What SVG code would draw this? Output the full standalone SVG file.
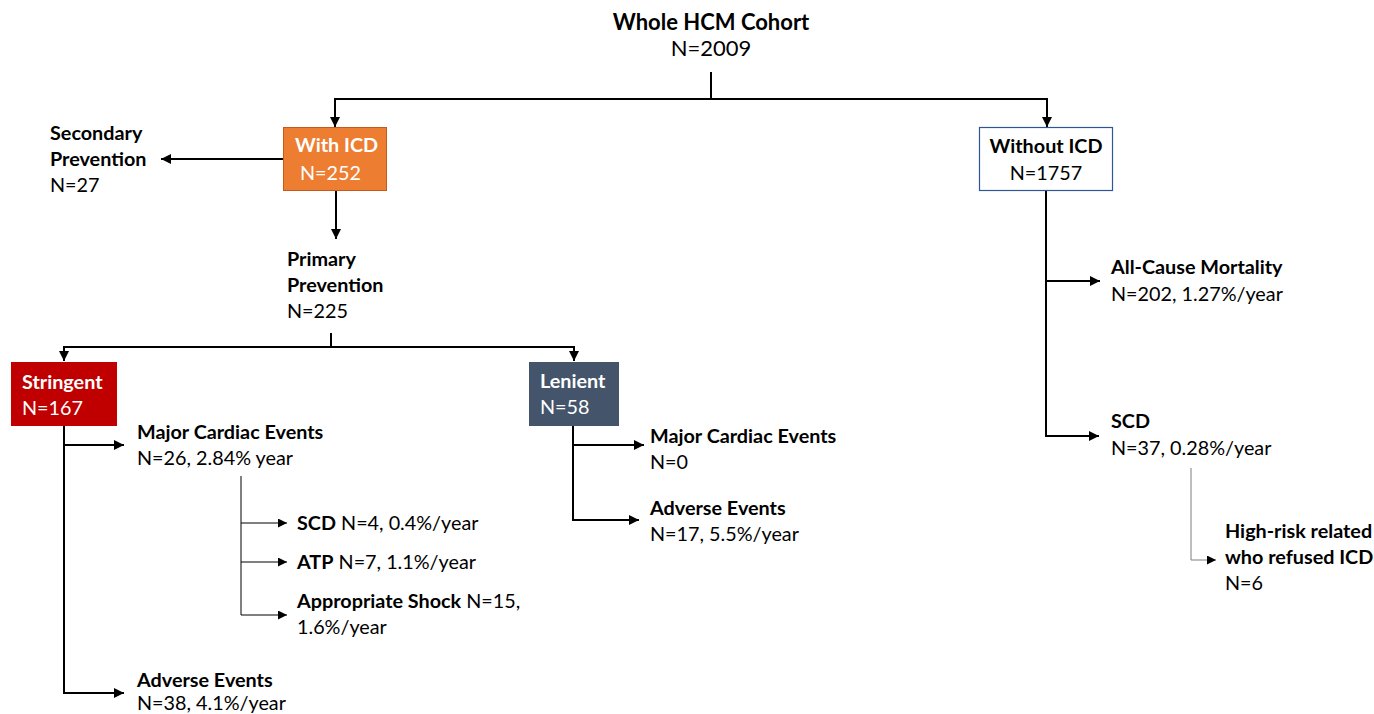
<svg xmlns="http://www.w3.org/2000/svg" width="1374" height="714" viewBox="0 0 1374 714">
<defs>
<marker id="ah" viewBox="0 0 10 10" refX="10" refY="5" markerWidth="10" markerHeight="10" markerUnits="userSpaceOnUse" orient="auto">
<path d="M0,0 L10,5 L0,10 z" fill="#000"/>
</marker>
<marker id="ahs" viewBox="0 0 10 10" refX="10" refY="5" markerWidth="9" markerHeight="9" markerUnits="userSpaceOnUse" orient="auto">
<path d="M0,0 L10,5 L0,10 z" fill="#000"/>
</marker>
</defs>
<style>
text{font-family:Lato,"Open Sans",sans-serif;font-size:19.8px;fill:#000}
.b{font-weight:bold}
.w{fill:#fff}
.t{font-size:22px}
.c{stroke:#000;stroke-width:2;fill:none}
.thin{stroke:#000;stroke-width:1;fill:none}
.grey{stroke:#7f7f7f;stroke-width:1;fill:none}
</style>
<rect width="1374" height="714" fill="#fff"/>
<g id="connectors">
<path class="c" d="M711,72 V99"/>
<path class="c" d="M335,99 H1048"/>
<path class="c" d="M335,98 V127" marker-end="url(#ah)"/>
<path class="c" d="M1047,98 V127" marker-end="url(#ah)"/>
<path class="c" d="M283,159 H161" marker-end="url(#ah)"/>
<path class="c" d="M336,191 V239" marker-end="url(#ah)"/>
<path class="c" d="M331,333 V347"/>
<path class="c" d="M63,347 H575"/>
<path class="c" d="M64,346 V361" marker-end="url(#ah)"/>
<path class="c" d="M574,346 V361" marker-end="url(#ah)"/>
<path class="c" d="M64,426 V693 H124" marker-end="url(#ah)"/>
<path class="c" d="M64,445 H124" marker-end="url(#ah)"/>
<path class="thin" d="M241,476 V615 H287" marker-end="url(#ahs)"/>
<path class="thin" d="M241,523 H287" marker-end="url(#ahs)"/>
<path class="thin" d="M241,562 H287" marker-end="url(#ahs)"/>
<path class="c" d="M573,426 V520 H639" marker-end="url(#ah)"/>
<path class="c" d="M573,445 H644" marker-end="url(#ah)"/>
<path class="c" d="M1046,191 V436 H1099" marker-end="url(#ah)"/>
<path class="c" d="M1046,281 H1100" marker-end="url(#ah)"/>
<path class="grey" d="M1191,468 V560 H1216" marker-end="url(#ahs)"/>
</g>
<g id="cohort">
<text class="b t" x="711" y="30" text-anchor="middle">Whole HCM Cohort</text>
<text class="t" x="711" y="56" text-anchor="middle">N=2009</text>
</g>
<g id="with-icd">
<rect x="283.5" y="127.5" width="103" height="63" fill="#ED7D31" stroke="#C65A1E" stroke-width="1"/>
<text class="b w" x="295" y="152">With ICD</text>
<text class="w" x="300" y="180">N=252</text>
</g>
<g id="secondary">
<text class="b" x="50" y="140">Secondary</text>
<text class="b" x="50" y="166">Prevention</text>
<text x="50" y="192">N=27</text>
</g>
<g id="primary">
<text class="b" x="287" y="266">Primary</text>
<text class="b" x="287" y="292">Prevention</text>
<text x="287" y="318">N=225</text>
</g>
<g id="stringent">
<rect x="11" y="362" width="106" height="64" fill="#C00000"/>
<text class="b w" x="22" y="389">Stringent</text>
<text class="w" x="22" y="415">N=167</text>
</g>
<g id="stringent-mce">
<text class="b" x="137" y="439">Major Cardiac Events</text>
<text x="137" y="465">N=26, 2.84% year</text>
</g>
<g id="scd-s">
<text x="297" y="530"><tspan class="b">SCD</tspan> N=4, 0.4%/year</text>
</g>
<g id="atp">
<text x="297" y="569"><tspan class="b">ATP</tspan> N=7, 1.1%/year</text>
</g>
<g id="shock">
<text x="297" y="608"><tspan class="b">Appropriate Shock</tspan> N=15,</text>
<text x="297" y="634">1.6%/year</text>
</g>
<g id="stringent-ae">
<text class="b" x="137" y="687">Adverse Events</text>
<text x="137" y="710">N=38, 4.1%/year</text>
</g>
<g id="lenient">
<rect x="529" y="362" width="90" height="64" fill="#44546A"/>
<text class="b w" x="540" y="388">Lenient</text>
<text class="w" x="540" y="414">N=58</text>
</g>
<g id="lenient-mce">
<text class="b" x="650" y="443">Major Cardiac Events</text>
<text x="650" y="469">N=0</text>
</g>
<g id="lenient-ae">
<text class="b" x="650" y="515">Adverse Events</text>
<text x="650" y="541">N=17, 5.5%/year</text>
</g>
<g id="without-icd">
<rect x="979.5" y="127.5" width="133" height="63" fill="#fff" stroke="#2F5597" stroke-width="1.2"/>
<text class="b" x="1046" y="153" text-anchor="middle">Without ICD</text>
<text x="1046" y="180" text-anchor="middle">N=1757</text>
</g>
<g id="mortality">
<text class="b" x="1111" y="274">All-Cause Mortality</text>
<text x="1111" y="301">N=202, 1.27%/year</text>
</g>
<g id="scd-w">
<text class="b" x="1111" y="428">SCD</text>
<text x="1111" y="455">N=37, 0.28%/year</text>
</g>
<g id="refused">
<text class="b" x="1225" y="538">High-risk related</text>
<text class="b" x="1225" y="564">who refused ICD</text>
<text x="1225" y="590">N=6</text>
</g>
</svg>
